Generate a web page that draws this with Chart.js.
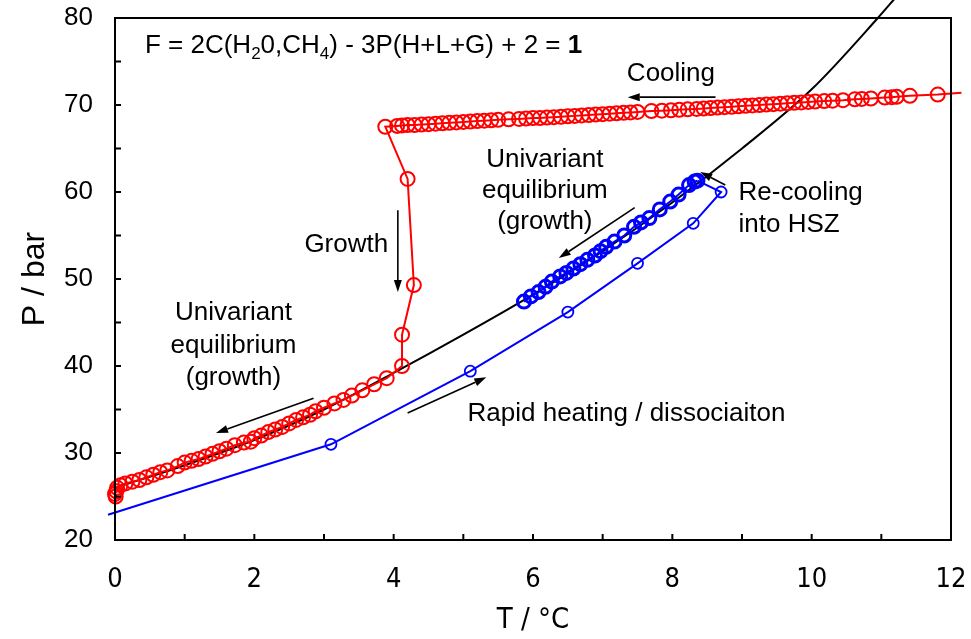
<!DOCTYPE html>
<html lang="en">
<head>
    <meta charset="UTF-8">
    <title>Hydrate P-T path</title>
    <script src="https://cdn.jsdelivr.net/npm/chart.js"></script>
    <style>
        body { margin: 0; background: #fff; }
    </style>
</head>
<body>
    <canvas id="ptChart" width="971" height="639"></canvas>

    <script>
        // hydrate equilibrium curve (black)
        const curveT = [0, 1, 2, 3, 4, 5, 6, 7, 8, 9, 10, 10.95, 11.2];
        const curveP = [26.0, 28.6, 31.5, 35.0, 39.2, 43.6, 48.2, 53.2, 58.8, 65.0, 71.8, 80.0, 82.3];

        // red: cooling, nucleation / growth, univariant growth (in time order)
        const coolT = [12.15, 11.81, 11.41, 11.22, 11.15, 11.05, 10.85, 10.72, 10.62, 10.45, 10.3, 10.18,
            10.05, 9.95, 9.85, 9.75, 9.65, 9.55, 9.45, 9.35, 9.25, 9.15, 9.05, 8.95, 8.85, 8.75,
            8.65, 8.55, 8.45, 8.35, 8.22, 8.1, 7.98, 7.85, 7.7, 7.5, 7.4, 7.3, 7.2, 7.1, 7.0,
            6.9, 6.8, 6.7, 6.6, 6.5, 6.4, 6.3, 6.2, 6.1, 6.0, 5.9, 5.8, 5.65, 5.5, 5.4, 5.3,
            5.2, 5.1, 5.0, 4.9, 4.8, 4.7, 4.6, 4.5, 4.4, 4.3, 4.2, 4.12, 4.05, 3.88,
            4.2, 4.29, 4.12, 4.12, 3.9, 3.72, 3.55, 3.4, 3.28, 3.15, 3.0, 2.88, 2.8, 2.7,
            2.6, 2.5, 2.4, 2.3, 2.2, 2.1, 2.0, 1.95, 1.85, 1.72, 1.6, 1.5, 1.4, 1.3, 1.2,
            1.1, 1.0, 0.9, 0.75, 0.65, 0.55, 0.45, 0.35, 0.25, 0.15, 0.08, 0.03, 0.02, 0.0, 0.01];
        const coolP = [71.4, 71.2, 71.05, 70.95, 70.9, 70.85, 70.75, 70.7, 70.65, 70.55, 70.5, 70.45,
            70.4, 70.35, 70.3, 70.25, 70.2, 70.15, 70.1, 70.05, 70.0, 69.95, 69.9, 69.85, 69.8, 69.75,
            69.7, 69.65, 69.6, 69.55, 69.5, 69.45, 69.4, 69.35, 69.3, 69.2, 69.15, 69.1, 69.05, 69.0, 68.95,
            68.9, 68.85, 68.8, 68.75, 68.7, 68.65, 68.6, 68.55, 68.5, 68.5, 68.45, 68.4, 68.35, 68.3, 68.25, 68.2,
            68.15, 68.1, 68.05, 68.0, 67.95, 67.9, 67.85, 67.8, 67.75, 67.7, 67.7, 67.65, 67.6, 67.5,
            61.5, 49.3, 43.6, 40.0, 38.6, 37.9, 37.2, 36.6, 36.1, 35.7, 35.2, 34.8, 34.4, 34.1,
            33.8, 33.4, 33.0, 32.7, 32.4, 32.0, 31.7, 31.3, 31.2, 30.9, 30.5, 30.2, 29.9, 29.6, 29.3,
            29.1, 28.9, 28.5, 28.0, 27.8, 27.5, 27.2, 26.9, 26.7, 26.5, 26.3, 26.0, 25.6, 25.3, 25.0];

        // blue: rapid heating / dissociation, then re-cooling into HSZ
        const heatT = [-0.1, 3.1, 5.1, 6.5, 7.5, 8.3, 8.7, 8.36];
        const heatP = [22.9, 31.0, 39.4, 46.2, 51.8, 56.4, 60.0, 61.3];

        const recoolT = [8.36, 8.32, 8.24, 8.09, 7.97, 7.82, 7.67, 7.55, 7.45, 7.31, 7.17, 7.05, 6.97,
            6.89, 6.78, 6.68, 6.58, 6.48, 6.39, 6.27, 6.18, 6.08, 5.97, 5.87];
        const recoolP = [61.3, 61.2, 60.8, 59.7, 58.9, 58.0, 57.0, 56.5, 56.0, 55.0, 54.3, 53.7, 53.2,
            52.7, 52.2, 51.7, 51.2, 50.7, 50.3, 49.7, 49.1, 48.5, 48.0, 47.4];

        const xTicks = [0, 2, 4, 6, 8, 10, 12];
        const yTicks = [20, 30, 40, 50, 60, 70, 80];

        const toPts = (xs, ys) => xs.map((x, i) => ({ x: x, y: ys[i] }));

        const FONT = "'Liberation Sans', Arial, sans-serif";
        const NARROW = "'DejaVu Sans Condensed', 'Liberation Sans Narrow', 'Liberation Sans', sans-serif";

        // annotations, placed in data units
        const labels = [
            { text: 'Cooling', x: 7.98, y: 73.6, align: 'center' },
            { text: 'Univariant', x: 6.17, y: 63.7, align: 'center' },
            { text: 'equilibrium', x: 6.17, y: 60.1, align: 'center' },
            { text: '(growth)', x: 6.17, y: 56.6, align: 'center' },
            { text: 'Univariant', x: 1.7, y: 46.1, align: 'center' },
            { text: 'equilibrium', x: 1.7, y: 42.3, align: 'center' },
            { text: '(growth)', x: 1.7, y: 38.6, align: 'center' },
            { text: 'Growth', x: 3.32, y: 53.9, align: 'center' },
            { text: 'Re-cooling', x: 8.95, y: 59.9, align: 'left' },
            { text: 'into HSZ', x: 8.95, y: 56.2, align: 'left' },
            { text: 'Rapid heating / dissociaiton', x: 5.06, y: 34.5, align: 'left' }
        ];
        const arrows = [
            [8.62, 70.9, 7.36, 70.9],
            [4.06, 57.9, 4.06, 48.5],
            [7.46, 58.2, 6.37, 52.4],
            [2.85, 36.3, 1.45, 32.3],
            [4.2, 34.6, 5.33, 38.7],
            [8.76, 60.8, 8.4, 62.3]
        ];

        const decor = {
            id: 'decor',
            afterDatasetsDraw(chart) {
                const { ctx, chartArea: a, scales: { x, y } } = chart;
                ctx.save();
                // frame and inward ticks
                ctx.strokeStyle = '#000';
                ctx.lineWidth = 2;
                ctx.strokeRect(a.left, a.top, a.right - a.left, a.bottom - a.top);
                ctx.beginPath();
                for (let t = 1; t < 12; t++) {
                    const px = x.getPixelForValue(t);
                    ctx.moveTo(px, a.bottom);
                    ctx.lineTo(px, a.bottom - 6);
                }
                for (let v = 25; v < 80; v += 5) {
                    const py = y.getPixelForValue(v);
                    ctx.moveTo(a.left, py);
                    ctx.lineTo(a.left + 6, py);
                }
                ctx.stroke();

                // arrows
                ctx.lineWidth = 1.6;
                ctx.fillStyle = '#000';
                arrows.forEach(([x1, y1, x2, y2]) => {
                    const sx = x.getPixelForValue(x1), sy = y.getPixelForValue(y1);
                    const ex = x.getPixelForValue(x2), ey = y.getPixelForValue(y2);
                    const ang = Math.atan2(ey - sy, ex - sx);
                    const len = 12, half = 4;
                    const bx = ex - len * Math.cos(ang), by = ey - len * Math.sin(ang);
                    ctx.beginPath();
                    ctx.moveTo(sx, sy);
                    ctx.lineTo(bx, by);
                    ctx.stroke();
                    ctx.beginPath();
                    ctx.moveTo(ex, ey);
                    ctx.lineTo(bx + half * Math.sin(ang), by - half * Math.cos(ang));
                    ctx.lineTo(bx - half * Math.sin(ang), by + half * Math.cos(ang));
                    ctx.closePath();
                    ctx.fill();
                });

                // text
                ctx.font = '26px ' + FONT;
                ctx.textBaseline = 'middle';
                labels.forEach(l => {
                    ctx.textAlign = l.align;
                    ctx.fillText(l.text, x.getPixelForValue(l.x), y.getPixelForValue(l.y));
                });

                // phase rule formula with subscripts
                const parts = [
                    ['F = 2C(H', 'n'], ['2', 's'], ['0,CH', 'n'], ['4', 's'],
                    [') - 3P(H+L+G) + 2 = ', 'n'], ['1', 'b']
                ];
                let fx = x.getPixelForValue(0.43);
                const fy = y.getPixelForValue(76.0);
                ctx.textAlign = 'left';
                ctx.textBaseline = 'alphabetic';
                parts.forEach(([s, k]) => {
                    if (k === 's') {
                        ctx.font = '17px ' + FONT;
                        ctx.fillText(s, fx, fy + 6);
                    } else {
                        ctx.font = (k === 'b' ? 'bold ' : '') + '26px ' + FONT;
                        ctx.fillText(s, fx, fy);
                    }
                    fx += ctx.measureText(s).width;
                });
                ctx.restore();
            }
        };

        const noPad = s => {
            s.paddingTop = 0; s.paddingBottom = 0; s.paddingLeft = 0; s.paddingRight = 0;
        };

        new Chart(document.getElementById('ptChart'), {
            type: 'scatter',
            data: {
                datasets: [
                    {
                        label: 'Re-cooling',
                        data: toPts(recoolT, recoolP),
                        showLine: true,
                        borderColor: '#0000ff',
                        borderWidth: 2,
                        pointRadius: 6.5,
                        pointBorderWidth: 3,
                        pointBorderColor: '#0000ff',
                        pointBackgroundColor: 'rgba(0,0,0,0)',
                        clip: false
                    },
                    {
                        label: 'Heating',
                        data: toPts(heatT, heatP),
                        showLine: true,
                        borderColor: '#0000ff',
                        borderWidth: 2,
                        pointRadius: ctx => (ctx.dataIndex === 0 || ctx.dataIndex === heatT.length - 1) ? 0 : 5.5,
                        pointBorderWidth: 1.8,
                        pointBorderColor: '#0000ff',
                        pointBackgroundColor: 'rgba(0,0,0,0)',
                        clip: false
                    },
                    {
                        label: 'Cooling / growth',
                        data: toPts(coolT, coolP),
                        showLine: true,
                        borderColor: '#ff0000',
                        borderWidth: 2,
                        pointRadius: ctx => ctx.dataIndex === 0 ? 0 : 7,
                        pointBorderWidth: 2,
                        pointBorderColor: '#ff0000',
                        pointBackgroundColor: 'rgba(0,0,0,0)',
                        clip: false
                    },
                    {
                        label: 'Equilibrium',
                        data: toPts(curveT, curveP),
                        showLine: true,
                        borderColor: '#000',
                        borderWidth: 2,
                        pointRadius: 0,
                        cubicInterpolationMode: 'monotone',
                        clip: false
                    }
                ]
            },
            options: {
                responsive: false,
                animation: false,
                events: [],
                layout: { padding: { top: 18, right: 20, left: 0, bottom: 0 } },
                plugins: { legend: { display: false }, tooltip: { enabled: false } },
                scales: {
                    x: {
                        type: 'linear',
                        min: 0, max: 12,
                        afterFit: s => { s.height = 99; noPad(s); },
                        afterBuildTicks: s => { s.ticks = xTicks.map(v => ({ value: v })); },
                        grid: { display: false, drawTicks: false },
                        border: { display: false },
                        ticks: { color: '#000', padding: 24, font: { family: NARROW, size: 27 } },
                        title: {
                            display: true, text: 'T / °C', color: '#000',
                            font: { family: NARROW, size: 29 }, padding: { top: 0, bottom: 1 }
                        }
                    },
                    y: {
                        type: 'linear',
                        min: 20, max: 80,
                        afterFit: s => { s.width = 115; noPad(s); },
                        afterBuildTicks: s => { s.ticks = yTicks.map(v => ({ value: v })); },
                        grid: { display: false, drawTicks: false },
                        border: { display: false },
                        ticks: { color: '#000', padding: 22, font: { family: FONT, size: 26 } },
                        title: {
                            display: true, text: 'P / bar', color: '#000',
                            font: { family: FONT, size: 32 }, padding: { top: 16, bottom: 0 }
                        }
                    }
                }
            },
            plugins: [decor]
        });
    </script>
</body>
</html>
